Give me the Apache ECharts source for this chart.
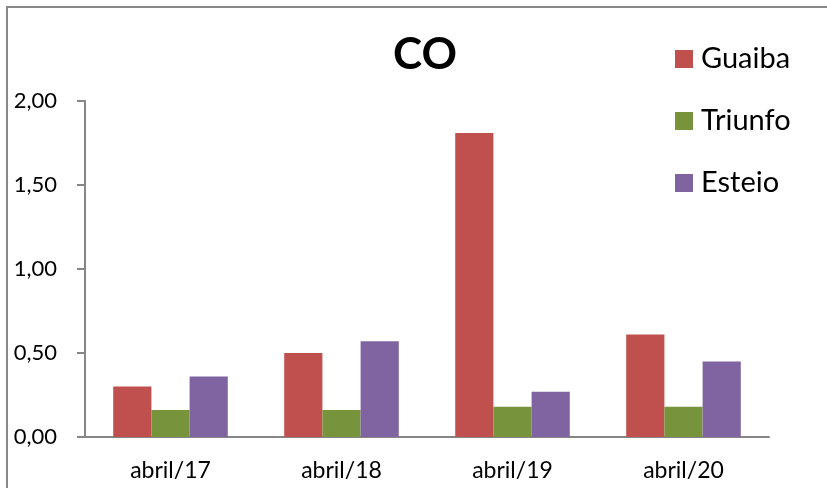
<!DOCTYPE html>
<html>
<head>
<meta charset="utf-8">
<script src="https://cdn.jsdelivr.net/npm/echarts@6/dist/echarts.min.js"></script>
<style>
  html, body { margin: 0; padding: 0; background: #fff; }
  #chart { width: 827px; height: 488px; }
</style>
</head>
<body>
<div id="chart"></div>
<script>
// Monthly CO readings per monitoring station
const categories = ['abril/17', 'abril/18', 'abril/19', 'abril/20'];
const guaiba = [0.30, 0.50, 1.81, 0.61];
const triunfo = [0.16, 0.16, 0.18, 0.18];
const esteio = [0.36, 0.57, 0.27, 0.45];
const seriesNames = ['Guaiba', 'Triunfo', 'Esteio'];
const seriesColors = ['#C0504D', '#77933C', '#8064A2'];

const FONT = 'Lato, "Open Sans", sans-serif';
const fmt = v => v.toFixed(2).replace('.', ',');

const chart = echarts.init(document.getElementById('chart'), null, { renderer: 'canvas' });

const values = [guaiba, triunfo, esteio];

chart.setOption({
  animation: false,
  backgroundColor: '#ffffff',
  title: {
    text: 'CO',
    left: 393,
    top: 33,
    padding: 0,
    textStyle: { fontFamily: FONT, fontWeight: 'bold', fontSize: 44, color: '#000' }
  },
  legend: {
    orient: 'vertical',
    left: 675,
    top: 44,
    padding: 0,
    itemWidth: 18,
    itemHeight: 18,
    itemGap: 32,
    icon: 'rect',
    data: seriesNames,
    textStyle: { fontFamily: FONT, fontSize: 29, color: '#000', lineHeight: 30, padding: [0, 0, 0, 3] }
  },
  grid: { left: 85, right: 58, top: 101, bottom: 51, containLabel: false },
  xAxis: {
    type: 'category',
    data: categories,
    axisLine: { lineStyle: { color: '#868686', width: 2 } },
    axisTick: { length: 8, lineStyle: { color: '#868686', width: 2 } },
    axisLabel: { fontFamily: FONT, fontSize: 23, color: '#000', margin: 22 }
  },
  yAxis: {
    type: 'value',
    min: 0,
    max: 2,
    interval: 0.5,
    splitLine: { show: false },
    axisLine: { show: true, lineStyle: { color: '#868686', width: 2 } },
    axisTick: { show: true, length: 8, lineStyle: { color: '#868686', width: 2 } },
    axisLabel: { fontFamily: FONT, fontSize: 22, color: '#000', margin: 28, formatter: fmt }
  },
  series: seriesNames.map((name, i) => ({
    name,
    type: 'bar',
    data: values[i],
    barGap: '0%',
    barCategoryGap: '33%',
    itemStyle: { color: seriesColors[i] }
  })),
  graphic: [{
    type: 'rect',
    shape: { x: 7, y: 7, width: 840, height: 500 },
    style: { fill: 'none', stroke: '#898989', lineWidth: 2 },
    silent: true
  }]
});
</script>
</body>
</html>
